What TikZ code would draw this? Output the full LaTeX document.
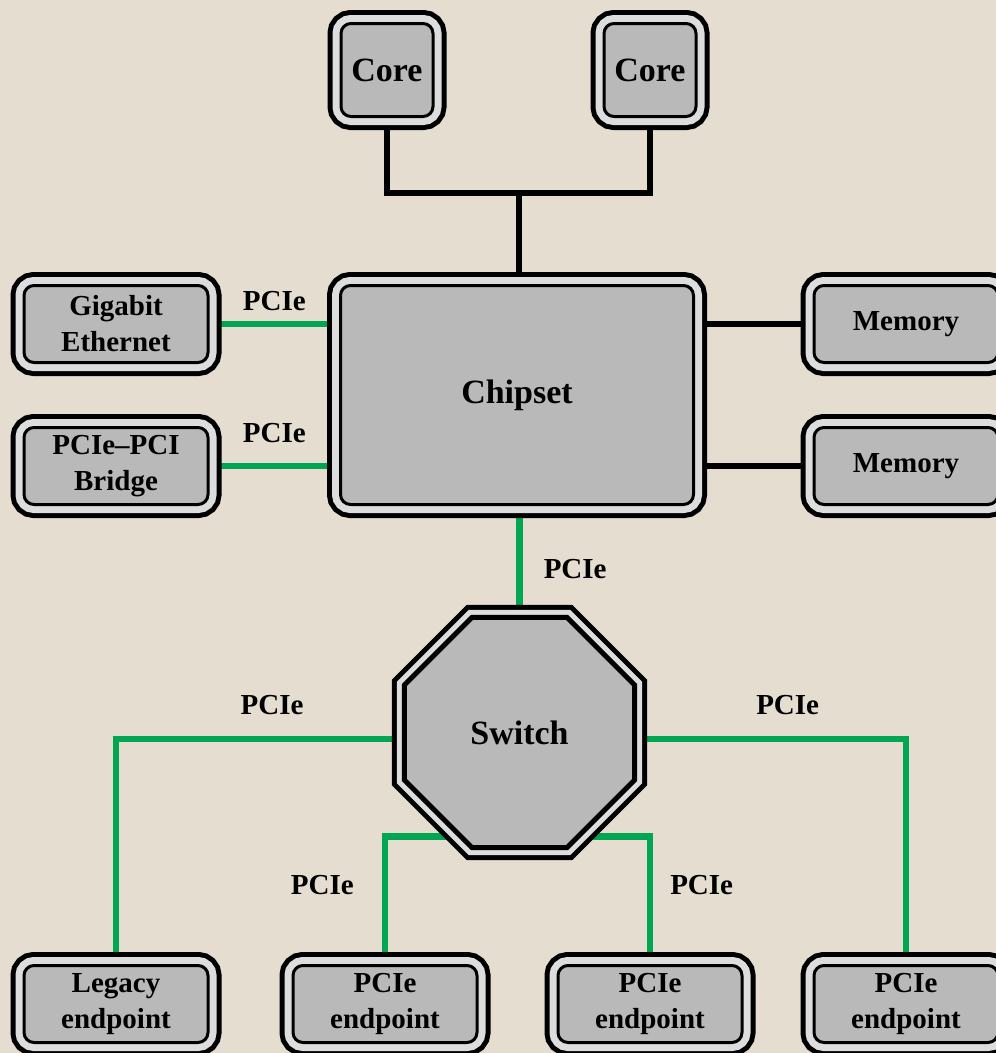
\documentclass[tikz,border=0pt]{standalone}
\usepackage{fontspec}
\setmainfont{Liberation Serif}
\usetikzlibrary{
        backgrounds,
        positioning,
        shapes.geometric
    }
\definecolor{paper}{RGB}{229,221,207}
\definecolor{rimgray}{RGB}{221,221,221}
\definecolor{boxgray}{RGB}{185,185,185}
\definecolor{pciegreen}{RGB}{0,166,81}
\tikzset{
  unit/.style={rectangle,rounded corners=10pt,draw=black,line width=3pt,fill=boxgray,
    inner sep=0pt,align=center,font=\fontsize{29}{36}\selectfont\bfseries,
    minimum width=184pt,minimum height=77pt,
    preaction={draw=black,line width=27pt},
    preaction={draw=rimgray,line width=17pt}},
  big/.style={font=\fontsize{34}{40}\selectfont\bfseries},
  hub/.style={regular polygon,regular polygon sides=8,minimum size=249pt,
    draw=black,line width=5pt,fill=boxgray,inner sep=0pt,big,
    preaction={draw=black,line width=25pt},
    preaction={draw=rimgray,line width=15pt}},
  bus/.style={draw=black,line width=6.5pt},
  pcie/.style={draw=pciegreen,line width=6.5pt},
  tag/.style={font=\fontsize{29}{36}\selectfont\bfseries,inner sep=0pt}
}

\begin{document}
\begin{tikzpicture}[x=1pt,y=-1pt]
\useasboundingbox (0,0) rectangle (996,1053);
    % processor side
    \node[unit,big,minimum width=92pt,minimum height=93pt] (core1) at (387,70) {Core};
    \node[unit,big,minimum width=92pt,minimum height=93pt] (core2) at (650,70) {Core};
    \node[unit,big,minimum width=353pt,minimum height=219pt] (chipset) at (517,395) {Chipset};
    \node[unit] (gbe)    at (116,324) {Gigabit\\Ethernet};
    \node[unit] (bridge) at (116,466) {PCIe--PCI\\Bridge};
    \node[unit] (mem1)   at (906,324) {Memory};
    \node[unit] (mem2)   at (906,466) {Memory};
    % switch and endpoints
    \node[hub] (switch) at (519.5,732.5) {Switch};
    \node[unit] (legacy) at (116,1004) {Legacy\\endpoint};
    \node[unit] (ep1)    at (385,1004) {PCIe\\endpoint};
    \node[unit] (ep2)    at (650,1004) {PCIe\\endpoint};
    \node[unit] (ep3)    at (906,1004) {PCIe\\endpoint};
    \coordinate (fsb) at (519,193);

    \begin{scope}[on background layer]
    \fill[paper] (0,0) rectangle (996,1053);
    \draw[bus] (core1.south) |- (fsb) -| (core2.south);
    \draw[bus] (fsb) -- (fsb |- chipset.north);
    \draw[bus] (mem1.west -| chipset.east) -- (mem1.west);
    \draw[bus] (mem2.west -| chipset.east) -- (mem2.west);
    \draw[pcie] (gbe.east) -- node[tag,above=9.5pt] {PCIe} (gbe.east -| chipset.west);
    \draw[pcie] (bridge.east) -- node[tag,above=20pt] {PCIe} (bridge.east -| chipset.west);
    \draw[pcie] (chipset.south -| switch.north) -- node[tag,right=21pt,pos=.58] {PCIe} (switch.north);
    \draw[pcie] ([yshift=-6.5pt]switch.west) -| node[tag,above=20.5pt,pos=.227] {PCIe} (legacy.north);
    \draw[pcie] ([yshift=-6.5pt]switch.east) -| node[tag,above=20.5pt,pos=.28] {PCIe} (ep3.north);
    \draw[pcie] (ep1.north) |- node[tag,left=28pt,pos=.31] {PCIe} ([yshift=-104pt]switch.center);
    \draw[pcie] (ep2.north) |- node[tag,right=17pt,pos=.31] {PCIe} ([yshift=-104pt]switch.center);
    \end{scope}
\end{tikzpicture}
\end{document}
